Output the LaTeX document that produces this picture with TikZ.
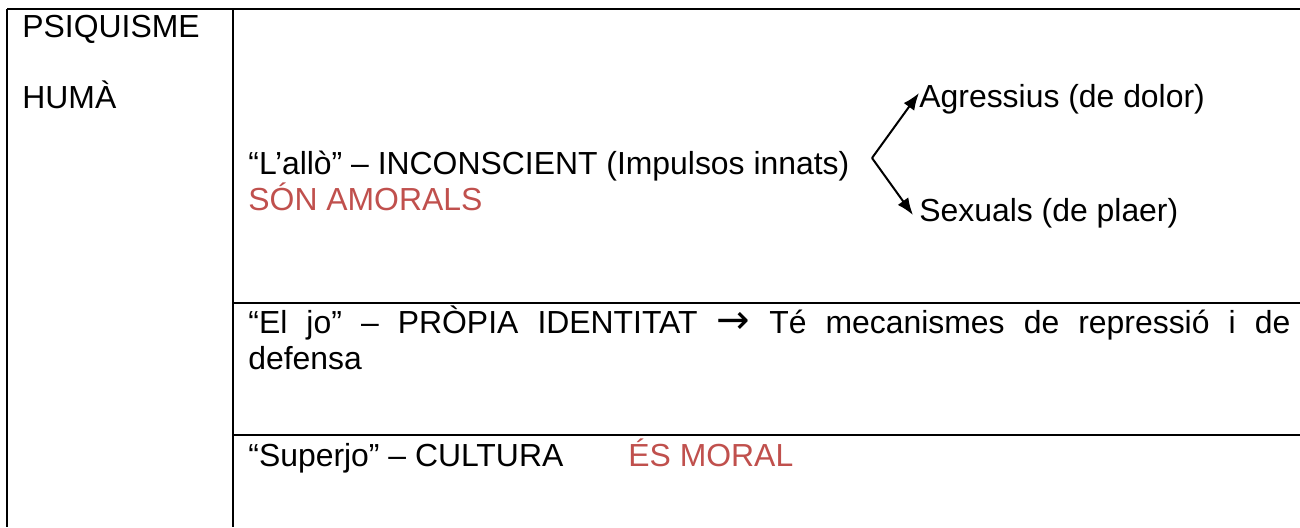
\documentclass[tikz,border=0pt]{standalone}
\usepackage{fontspec}
\setmainfont{Liberation Sans}
\newfontfamily\arrowfont{DejaVu Sans}
\usepackage{xcolor}
\usetikzlibrary{arrows.meta}

\definecolor{accentred}{RGB}{192,80,77}

\tikzset{
  cell text/.style={anchor=base west, inner sep=0pt, font=\fontsize{15.95}{18}\selectfont},
  table rule/.style={line width=1.2pt},
  fork arrow/.style={line width=1pt, -{Latex[length=8.5pt,width=6.5pt]}}
}

\begin{document}
\begin{tikzpicture}[x=0.5pt,y=0.5pt,yscale=-1,xscale=1]
\useasboundingbox (0,0) rectangle (1300,527);

%Shape: table rules
\draw [table rule] (7,9) -- (1300,9) ;
\draw [table rule] (7,9) -- (7,527) ;
\draw [table rule] (233,9) -- (233,527) ;
\draw [table rule] (233,303) -- (1300,303) ;
\draw [table rule] (233,435) -- (1300,435) ;

% Text Node
\node [cell text] (psiquisme) at (22,37) {PSIQUISME};
% Text Node
\node [cell text] (huma) at (22,108) {HUMÀ};
% Text Node
\node [cell text] (allo) at (248,174) {“L’allò” – INCONSCIENT (Impulsos innats)};
% Text Node
\node [cell text, accentred] (amorals) at (248,210) {SÓN AMORALS};
% Text Node
\node [cell text] (agressius) at (919,107) {Agressius (de dolor)};
% Text Node
\node [cell text] (sexuals) at (919,221) {Sexuals (de plaer)};
% Text Node
\node [cell text, text width=521pt, align=justify] (jo) at (248,333) {“El jo” – PRÒPIA IDENTITAT {\arrowfont\fontsize{20}{18}\selectfont →} Té mecanismes de repressió i de\linebreak defensa};
% Text Node
\node [cell text] (superjo) at (248,466) {“Superjo” – CULTURA};
% Text Node
\node [cell text, accentred] (moral) at (628,466) {ÉS MORAL};

%Straight Lines
\coordinate (fork) at (872,158);
\draw [fork arrow] (fork) -- ([yshift=-7pt]agressius.base west) ;
\draw [fork arrow] (fork) -- ([shift={(-3pt,-3pt)}]sexuals.base west) ;

\end{tikzpicture}
\end{document}
